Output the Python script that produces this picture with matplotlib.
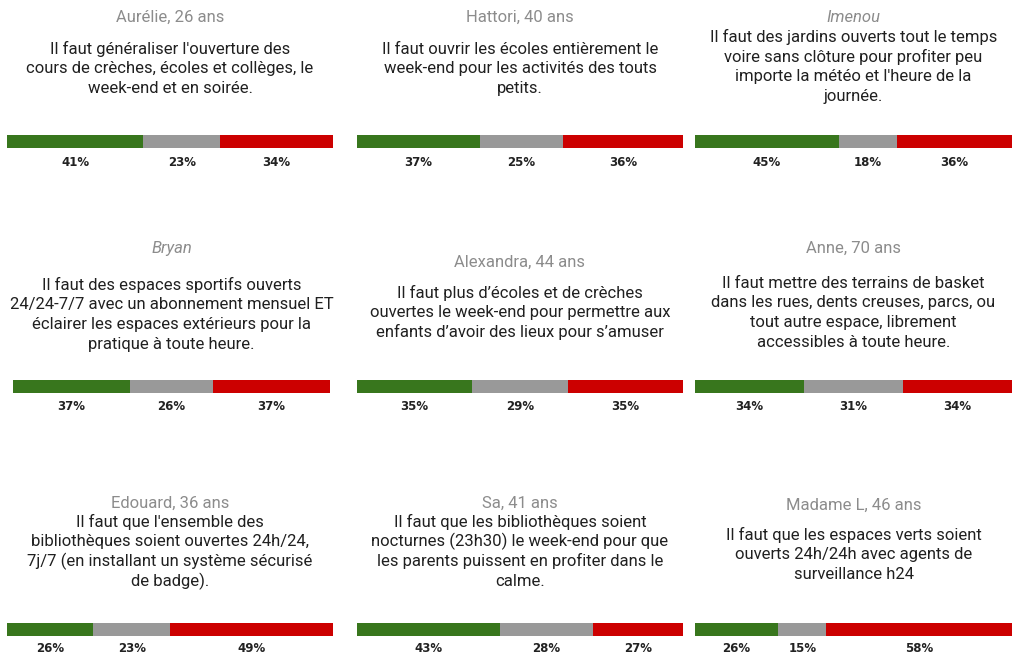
import matplotlib
matplotlib.use('Agg')
import matplotlib.pyplot as plt
from matplotlib.transforms import blended_transform_factory

# ---------------- data ----------------
names = ["Aurélie, 26 ans", "Hattori, 40 ans", "Imenou",
         "Bryan", "Alexandra, 44 ans", "Anne, 70 ans",
         "Edouard, 36 ans", "Sa, 41 ans", "Madame L, 46 ans"]
name_italic = [False, False, True, True, False, False, False, False, False]
statements = [
    ["Il faut généraliser l'ouverture des",
     "cours de crèches, écoles et collèges, le",
     "week-end et en soirée."],
    ["Il faut ouvrir les écoles entièrement le",
     "week-end pour les activités des touts",
     "petits."],
    ["Il faut des jardins ouverts tout le temps",
     "voire sans clôture pour profiter peu",
     "importe la météo et l'heure de la",
     "journée."],
    ["Il faut des espaces sportifs ouverts",
     "24/24-7/7 avec un abonnement mensuel ET",
     "éclairer les espaces extérieurs pour la",
     "pratique à toute heure."],
    ["Il faut plus d’écoles et de crèches",
     "ouvertes le week-end pour permettre aux",
     "enfants d’avoir des lieux pour s’amuser"],
    ["Il faut mettre des terrains de basket",
     "dans les rues, dents creuses, parcs, ou",
     "tout autre espace, librement",
     "accessibles à toute heure."],
    ["Il faut que l'ensemble des",
     "bibliothèques soient ouvertes 24h/24,",
     "7j/7 (en installant un système sécurisé",
     "de badge)."],
    ["Il faut que les bibliothèques soient",
     "nocturnes (23h30) le week-end pour que",
     "les parents puissent en profiter dans le",
     "calme."],
    ["Il faut que les espaces verts soient",
     "ouverts 24h/24h avec agents de",
     "surveillance h24"],
]
pour = [41, 37, 45, 37, 35, 34, 26, 43, 26]
neutre = [23, 25, 18, 26, 29, 31, 23, 28, 15]
contre = [34, 36, 36, 37, 35, 34, 49, 27, 58]

seg_colors = ["#38761d", "#999999", "#cc0000"]

# ---------------- layout (pixels) ----------------
W, H = 1014, 655
bar_x0 = [7, 357, 695, 13, 357, 695, 7, 357, 695]
bar_x1 = [333, 683, 1012, 330, 683, 1012, 333, 683, 1012]
bar_top = [135, 135, 135, 380, 380, 380, 623, 623, 623]
bar_h = 13
label_y = [162, 162, 162, 406, 406, 406, 648, 648, 648]
name_y = [17, 17, 17, 248, 262, 248, 503, 503, 505]
line1_y = [49, 49, 37, 285, 293, 283, 522, 522, 535]
line_step = 19.7

fig = plt.figure(figsize=(W / 100, H / 100), dpi=100)
fig.patch.set_facecolor("white")

def fy(py):
    return 1 - py / H

for i in range(9):
    x0, x1 = bar_x0[i], bar_x1[i]
    cx = (x0 + x1) / 2 / W
    # name
    fig.text(cx, fy(name_y[i]), names[i], ha="center", va="center",
             family="Roboto", fontsize=12, color="#8c8c8c",
             style="italic" if name_italic[i] else "normal")
    # statement lines
    for j, line in enumerate(statements[i]):
        fig.text(cx, fy(line1_y[i] + j * line_step), line, ha="center",
                 va="center", family="Roboto", fontsize=12, color="#202020")
    # bar
    ax = fig.add_axes([x0 / W, fy(bar_top[i] + bar_h), (x1 - x0) / W, bar_h / H])
    vals = [pour[i], neutre[i], contre[i]]
    total = sum(vals)
    left = 0
    trans = blended_transform_factory(ax.transData, fig.transFigure)
    for v, c in zip(vals, seg_colors):
        ax.barh(0, v, left=left, height=1, color=c, linewidth=0)
        ax.text(left + v / 2, fy(label_y[i]), f"{v}%", transform=trans,
                ha="center", va="center", fontsize=8.5, fontweight="bold",
                family="DejaVu Sans", color="#222222")
        left += v
    ax.set_xlim(0, total)
    ax.set_ylim(-0.5, 0.5)
    ax.axis("off")

fig.savefig("out.png", dpi=100, facecolor="white")
